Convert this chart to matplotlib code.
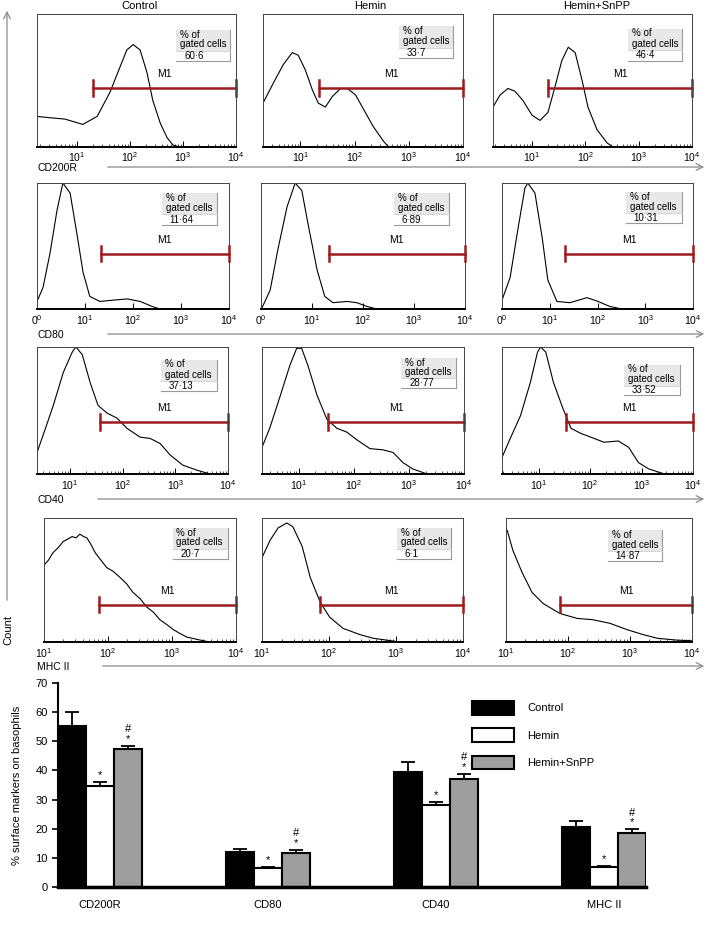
import matplotlib
matplotlib.use("Agg")
import matplotlib.pyplot as plt
import numpy as np
from matplotlib.patches import Rectangle, FancyArrowPatch

plt.rcParams['font.family'] = ['Liberation Sans', 'DejaVu Sans']
plt.rcParams['mathtext.fontset'] = 'custom'
plt.rcParams['mathtext.rm'] = 'Liberation Sans'
plt.rcParams['mathtext.it'] = 'Liberation Sans:italic'

# ---- flow cytometry histograms (x = log10 fluorescence, y = % of panel height) ----
groups = ['Control', 'Hemin', 'Hemin+SnPP']
markers = ['CD200R', 'CD80', 'CD40', 'MHC II']

cd200r_ctrl_x = [0.245, 0.49, 0.77, 1.11, 1.38, 1.62, 1.81, 1.94, 2.06, 2.19, 2.32, 2.43, 2.57, 2.70, 2.81, 2.94, 4.0]
cd200r_ctrl_y = [23, 22, 21, 17, 23, 41, 60, 73, 77, 73, 56, 35, 18, 7, 1.5, 0, 0]
cd200r_hem_x = [0.31, 0.5, 0.685, 0.85, 0.96, 1.09, 1.22, 1.33, 1.46, 1.59, 1.74, 1.87, 2.02, 2.17, 2.35, 2.54, 2.63, 4.0]
cd200r_hem_y = [33, 48, 62, 71, 69, 58, 43, 33, 30, 38, 44, 44, 39, 28, 15, 4, 0, 0]
cd200r_snpp_x = [0.27, 0.40, 0.55, 0.68, 0.83, 1.0, 1.15, 1.30, 1.43, 1.56, 1.68, 1.81, 1.94, 2.05, 2.22, 2.41, 2.52, 4.0]
cd200r_snpp_y = [30, 39, 44, 42, 35, 24, 20, 26, 45, 65, 75, 71, 50, 30, 13, 3, 0, 0]

cd80_ctrl_x = [0, 0.125, 0.27, 0.42, 0.54, 0.69, 0.83, 0.96, 1.10, 1.31, 1.58, 1.88, 2.15, 2.40, 2.56, 4.0]
cd80_ctrl_y = [6, 17, 44, 79, 100, 92, 60, 29, 10, 6, 7, 8, 6, 2, 0, 0]
cd80_hem_x = [0.02, 0.18, 0.33, 0.51, 0.67, 0.80, 0.92, 1.10, 1.25, 1.41, 1.69, 1.88, 2.08, 2.27, 4.0]
cd80_hem_y = [1, 15, 47, 81, 100, 94, 68, 31, 10, 5, 6, 5, 2, 0, 0]
cd80_snpp_x = [0, 0.17, 0.34, 0.48, 0.54, 0.69, 0.84, 0.96, 1.15, 1.42, 1.78, 2.01, 2.26, 2.51, 4.0]
cd80_snpp_y = [7, 25, 65, 96, 100, 92, 57, 23, 6, 5, 9, 6, 2, 0, 0]

cd40_ctrl_x = [0.37, 0.49, 0.68, 0.87, 1.04, 1.11, 1.23, 1.38, 1.53, 1.70, 1.89, 2.08, 2.33, 2.52, 2.71, 2.90, 3.14, 3.41, 3.66, 4.0]
cd40_ctrl_y = [17, 31, 54, 80, 96, 100, 94, 72, 54, 48, 44, 36, 29, 28, 24, 15, 7, 3, 0, 0]
cd40_hem_x = [0.33, 0.47, 0.65, 0.84, 0.96, 1.05, 1.16, 1.33, 1.51, 1.69, 1.87, 2.05, 2.29, 2.53, 2.71, 2.89, 3.07, 3.33, 4.0]
cd40_hem_y = [21, 36, 60, 86, 99, 99, 86, 62, 43, 36, 33, 27, 20, 19, 17, 9, 4, 0, 0]
cd40_snpp_x = [0.29, 0.45, 0.65, 0.84, 0.98, 1.04, 1.14, 1.29, 1.47, 1.63, 1.82, 2.08, 2.27, 2.55, 2.75, 2.94, 3.14, 3.45, 4.0]
cd40_snpp_y = [13, 28, 46, 72, 96, 100, 96, 72, 52, 36, 32, 28, 25, 26, 21, 9, 4, 0, 0]

mhc_ctrl_x = [1.0, 1.07, 1.14, 1.22, 1.30, 1.37, 1.44, 1.50, 1.56, 1.62, 1.67, 1.73, 1.80, 1.89, 1.98, 2.08, 2.19, 2.29, 2.39, 2.50, 2.61, 2.71, 2.81, 2.92, 3.02, 3.12, 3.23, 3.40, 3.59, 4.0]
mhc_ctrl_y = [62, 66, 72, 76, 81, 83, 85, 84, 87, 85, 84, 79, 72, 66, 60, 57, 52, 47, 40, 35, 28, 24, 18, 14, 10, 7, 4, 2, 0, 0]
mhc_hem_x = [1.0, 1.12, 1.24, 1.37, 1.46, 1.60, 1.72, 1.87, 2.01, 2.21, 2.46, 2.66, 3.06, 4.0]
mhc_hem_y = [68, 82, 92, 96, 93, 77, 52, 32, 20, 11, 6, 3, 0, 0]
mhc_snpp_x = [1.02, 1.11, 1.26, 1.42, 1.60, 1.87, 2.15, 2.40, 2.68, 2.95, 3.21, 3.44, 3.76, 4.0]
mhc_snpp_y = [90, 74, 56, 40, 31, 23, 19, 18, 15, 10, 6, 3, 1.5, 1]

gated_pct = [['60·6', '33·7', '46·4'],
             ['11·64', '6·89', '10·31'],
             ['37·13', '28·77', '33·52'],
             ['20·7', '6·1', '14·87']]
gate_start = [[1.30, 1.35, 1.30],
              [1.33, 1.33, 1.32],
              [1.57, 1.53, 1.53],
              [1.86, 1.87, 1.87]]
gate_end = 4.0
gate_height = [44, 44, 41, 30]

curves = [
    [(cd200r_ctrl_x, cd200r_ctrl_y), (cd200r_hem_x, cd200r_hem_y), (cd200r_snpp_x, cd200r_snpp_y)],
    [(cd80_ctrl_x, cd80_ctrl_y), (cd80_hem_x, cd80_hem_y), (cd80_snpp_x, cd80_snpp_y)],
    [(cd40_ctrl_x, cd40_ctrl_y), (cd40_hem_x, cd40_hem_y), (cd40_snpp_x, cd40_snpp_y)],
    [(mhc_ctrl_x, mhc_ctrl_y), (mhc_hem_x, mhc_hem_y), (mhc_snpp_x, mhc_snpp_y)],
]

# ---- bar chart summary ----
control_mean = [55.2, 12.1, 39.4, 20.6]
control_err = [5.0, 1.1, 3.4, 2.2]
hemin_mean = [34.6, 6.4, 28.1, 6.8]
hemin_err = [1.5, 0.6, 1.0, 0.5]
snpp_mean = [47.4, 11.7, 37.1, 18.4]
snpp_err = [1.0, 1.0, 1.6, 1.4]
hemin_marks = ['*', '*', '*', '*']
snpp_marks = ['#\n*', '#\n*', '#\n*', '#\n*']

W, H = 709, 938
fig = plt.figure(figsize=(W / 100, H / 100), dpi=100)


def fbox(x0, y0, x1, y1):
    # pixel box (top-left origin) -> figure fraction rect
    return [x0 / W, 1 - y1 / H, (x1 - x0) / W, (y1 - y0) / H]


def fpt(x, y):
    return (x / W, 1 - y / H)


panel_px = [
    [(37, 14, 236, 147), (263, 14, 463, 147), (493, 14, 692, 147)],
    [(37, 183, 229, 309), (261, 183, 465, 309), (502, 183, 693, 309)],
    [(37, 347, 228, 474), (262, 347, 464, 474), (502, 347, 693, 474)],
    [(44, 518, 236, 642), (262, 518, 463, 642), (506, 518, 692, 642)],
]
xmin_log = [[0.245, 0.31, 0.27], [0, 0, 0], [0.37, 0.33, 0.29], [1, 1, 1]]
stat_boxes = [
    [(0.70, 0.97, 0.65, 0.88), (0.68, 0.95, 0.67, 0.91), (0.68, 0.95, 0.65, 0.89)],
    [(0.65, 0.94, 0.67, 0.92), (0.65, 0.92, 0.67, 0.92), (0.65, 0.94, 0.68, 0.93)],
    [(0.65, 0.94, 0.65, 0.90), (0.69, 0.96, 0.68, 0.91), (0.64, 0.93, 0.62, 0.86)],
    [(0.67, 0.96, 0.67, 0.92), (0.67, 0.94, 0.67, 0.92), (0.55, 0.84, 0.65, 0.90)],
]
gate_color = '#9b1b1e'

for r in range(4):
    for c in range(3):
        ax = fig.add_axes(fbox(*panel_px[r][c]))
        cx, cy = curves[r][c]
        ax.plot(10 ** np.array(cx), cy, color='black', lw=0.8)
        ax.set_xscale('log')
        ax.set_xlim(10 ** xmin_log[r][c], 1e4)
        ax.set_ylim(0, 100)
        ax.set_yticks([])
        for s in ['top', 'left', 'right']:
            ax.spines[s].set_linewidth(0.7)
            ax.spines[s].set_color('#444444')
        ax.spines['bottom'].set_linewidth(1.4)
        if r == 1:
            ticks = [1, 10, 100, 1000, 10000]
            labels = ['$0^{0}$', '$10^{1}$', '$10^{2}$', '$10^{3}$', '$10^{4}$']
        else:
            ticks = [10, 100, 1000, 10000]
            labels = ['$10^{1}$', '$10^{2}$', '$10^{3}$', '$10^{4}$']
        ax.set_xticks(ticks)
        ax.set_xticklabels(labels, fontsize=7.5)
        ax.tick_params(axis='x', which='major', direction='in', length=4, width=0.7,
                       pad=2 if r == 0 else 3)
        ax.tick_params(axis='x', which='minor', direction='in', length=2.5, width=0.5)

        # gate M1
        gs = 10 ** gate_start[r][c]
        ge = 10 ** gate_end
        gy = gate_height[r]
        ax.plot([gs, ge], [gy, gy], color=gate_color, lw=1.8, clip_on=False)
        for gx in [gs, ge]:
            ax.plot([gx, gx], [gy - 6, gy + 6], color=gate_color, lw=1.8, clip_on=False)
        ax.text(10 ** ((gate_start[r][c] + gate_end) / 2), gy + 7, 'M1',
                ha='center', va='bottom', fontsize=7.5)

        # stats box
        bx0, bx1, by0, by1 = stat_boxes[r][c]
        bh = by1 - by0
        split = by0 + bh * 0.32
        ax.add_patch(Rectangle((bx0, split), bx1 - bx0, by1 - split, transform=ax.transAxes,
                               facecolor='#e8e8e8', edgecolor='none'))
        ax.plot([bx1, bx1], [by0, by1], transform=ax.transAxes, color='#9a9a9a', lw=0.8)
        ax.plot([bx0, bx1], [by0, by0], transform=ax.transAxes, color='#9a9a9a', lw=0.8)
        ax.plot([bx0, bx1], [split, split], transform=ax.transAxes, color='#cfcfcf', lw=0.6)
        tx = bx0 + 0.02
        ax.text(tx, by0 + bh * 0.85, '% of', transform=ax.transAxes, fontsize=7, va='center')
        ax.text(tx, by0 + bh * 0.53, 'gated cells', transform=ax.transAxes, fontsize=7, va='center')
        ax.text(tx + 0.02, by0 + bh * 0.16, gated_pct[r][c], transform=ax.transAxes,
                fontsize=7, va='center')

# column titles
for name, xc in zip(groups, [139, 370, 597]):
    fig.text(*fpt(xc, 6), name, ha='center', va='center', fontsize=8)

# row labels and long axis arrows
for name, ly, arr_x0 in zip(markers, [168, 335, 500, 667], [105, 105, 95, 100]):
    fig.text(*fpt(37, ly), name, ha='left', va='center', fontsize=7.5)
    fig.patches.append(FancyArrowPatch(
        fpt(arr_x0, ly - 1), fpt(707, ly - 1), transform=fig.transFigure,
        arrowstyle='->', mutation_scale=12, color='#8a8a8a', lw=0.9))

# Count axis arrow
fig.patches.append(FancyArrowPatch(
    fpt(7, 603), fpt(7, 8), transform=fig.transFigure,
    arrowstyle='->', mutation_scale=12, color='#8a8a8a', lw=0.9))
fig.text(*fpt(8, 630), 'Count', rotation=90, ha='center', va='center', fontsize=8)

# ---- bar chart ----
axb = fig.add_axes(fbox(58, 683, 646, 887))
x = np.arange(len(markers))
bw = 1 / 6
ekw = dict(elinewidth=1.3, capthick=1.3, capsize=5, ecolor='black')
axb.bar(x - bw, control_mean, bw, color='black', edgecolor='black', lw=1.5,
        yerr=[[0] * 4, control_err], error_kw=ekw, label='Control', zorder=2)
axb.bar(x, hemin_mean, bw, color='white', edgecolor='black', lw=1.5,
        yerr=[[0] * 4, hemin_err], error_kw=ekw, label='Hemin', zorder=2)
axb.bar(x + bw, snpp_mean, bw, color='#9e9e9e', edgecolor='black', lw=1.5,
        yerr=[[0] * 4, snpp_err], error_kw=ekw, label='Hemin+SnPP', zorder=2)

for i in range(len(markers)):
    axb.text(x[i], hemin_mean[i] + hemin_err[i] + 0.6, hemin_marks[i],
             ha='center', va='bottom', fontsize=8)
    axb.text(x[i] + bw, snpp_mean[i] + snpp_err[i] + 0.6, snpp_marks[i],
             ha='center', va='bottom', fontsize=8, linespacing=1.0)

axb.set_xlim(-0.25, 3.25)
axb.set_ylim(0, 70)
axb.set_yticks(range(0, 71, 10))
axb.set_xticks(x)
axb.set_xticklabels(markers, fontsize=8)
axb.tick_params(axis='x', length=0, pad=9)
axb.tick_params(axis='y', labelsize=8, length=4, width=1.2)
axb.spines['top'].set_visible(False)
axb.spines['right'].set_visible(False)
axb.spines['left'].set_linewidth(1.5)
axb.spines['bottom'].set_linewidth(2.5)
axb.set_ylabel('% surface markers on basophils', fontsize=8)
axb.yaxis.set_label_coords((22 - 58) / 588, 0.5)
axb.legend(loc='upper left', bbox_to_anchor=((472 - 58) / 588, (887 - 701) / 204), frameon=False,
           handlelength=3.8, handleheight=1.5, labelspacing=1.25, fontsize=8,
           handletextpad=1.2, borderaxespad=0, borderpad=0)

plt.savefig('out.png', dpi=100)
plt.close()
